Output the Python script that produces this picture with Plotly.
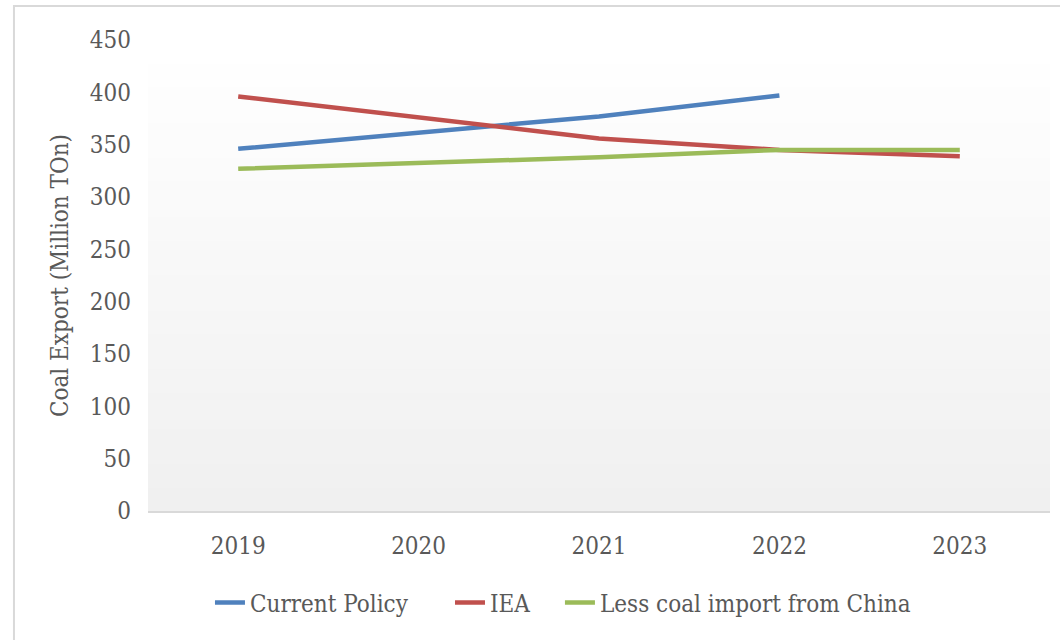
import plotly.graph_objects as go

years = ["2019", "2020", "2021", "2022", "2023"]
current_policy = [346, 362, 377, 397, None]
iea = [396, 376, 356, 345, 339]
less_china = [327, 332, 338, 345, 345]

series = [
    ("Current Policy", current_policy, "#4F81BD", "legend", 0.0687),
    ("IEA", iea, "#C0504D", "legend2", 0.3348),
    ("Less coal import from China", less_china, "#9BBB59", "legend3", 0.4567),
]

FONT = "DejaVu Serif Condensed"
GRAY = "#595959"
FS = 24

fig = go.Figure()
legends = {}
for name, vals, col, leg, lx in series:
    fig.add_trace(go.Scatter(x=years, y=vals, name=name, mode="lines",
                             line=dict(color=col, width=4.5), connectgaps=False,
                             legend=leg))
    legends[leg] = dict(orientation="h", x=lx, xanchor="left", y=-0.195, yanchor="middle",
                        font=dict(family=FONT, size=FS, color=GRAY), itemwidth=30,
                        bgcolor="rgba(0,0,0,0)")

# gradient plot background (white at top to light gray at bottom)
shapes = []
n = 40
for i in range(n):
    t = i / (n - 1)
    c = int(round(255 - (255 - 240) * (1 - t)))
    shapes.append(dict(type="rect", xref="x domain", yref="y domain",
                       x0=0, x1=1, y0=i / n, y1=(i + 1) / n + 0.002,
                       fillcolor=f"rgb({c},{c},{c})", line=dict(width=0),
                       layer="below"))
# chart border
shapes.append(dict(type="rect", xref="paper", yref="paper",
                   x0=-0.1486, x1=1.02, y0=-0.30, y1=1.0722,
                   line=dict(color="#d9d9d9", width=2), fillcolor="rgba(0,0,0,0)",
                   layer="below"))

fig.update_layout(
    width=1060, height=640,
    margin=dict(l=148, r=10, t=40, b=129),
    paper_bgcolor="white", plot_bgcolor="rgba(0,0,0,0)",
    font=dict(family=FONT, size=FS, color=GRAY),
    shapes=shapes,
    showlegend=True,
    xaxis=dict(type="category", showgrid=False, showline=True, linecolor="#d9d9d9",
               linewidth=2, ticks="", ticklabelstandoff=12,
               tickfont=dict(family=FONT, size=FS, color=GRAY), range=[-0.5, 4.5]),
    yaxis=dict(range=[0, 450], dtick=50, showgrid=False, showline=False, zeroline=False,
               ticks="", ticklabelstandoff=16,
               tickfont=dict(family=FONT, size=FS, color=GRAY),
               title=dict(text="Coal Export (Million TOn)", standoff=14,
                          font=dict(family=FONT, size=FS, color=GRAY))),
    **legends,
)

fig.write_html("out.html", config={"displayModeBar": False},
               post_script="document.body.style.margin='0';")
